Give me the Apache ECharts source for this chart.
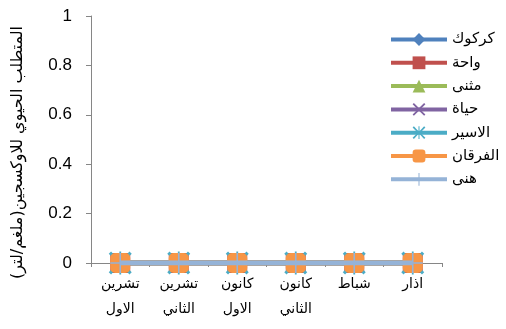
<!DOCTYPE html>
<html>
<head>
<meta charset="utf-8">
<script src="https://cdn.jsdelivr.net/npm/echarts@6/dist/echarts.min.js"></script>
<style>
  html, body { margin: 0; padding: 0; background: #fff; }
  #chart { width: 506px; height: 329px; }
</style>
</head>
<body>
<div id="chart"></div>
<script>
// Months (x axis), two-line labels
const months = ['تشرين\nالاول', 'تشرين\nالثاني', 'كانون\nالاول', 'كانون\nالثاني', 'شباط', 'اذار'];

// Station values per month (mg/L)
const kirkuk   = [0, 0, 0, 0, 0, 0];
const waha     = [0, 0, 0, 0, 0, 0];
const muthanna = [0, 0, 0, 0, 0, 0];
const hayat    = [0, 0, 0, 0, 0, 0];
const alaseer  = [0, 0, 0, 0, 0, 0];
const alfurqan = [0, 0, 0, 0, 0, 0];
const hana     = [0, 0, 0, 0, 0, 0];

const seriesNames = ['كركوك', 'واحة', 'مثنى', 'حياة', 'الاسير', 'الفرقان', 'هنى'];
const yTicks = [0, 0.2, 0.4, 0.6, 0.8, 1];

const xShape = 'path://M1,0L5,4L9,0L10,1L6,5L10,9L9,10L5,6L1,10L0,9L4,5L0,1Z';
const starShape = 'path://M1,0L4.6,3.9L4.6,0L5.4,0L5.4,3.9L9,0L10,1L6,5L10,9L9,10L5.4,6.1L5.4,10L4.6,10L4.6,6.1L1,10L0,9L4,5L0,1Z';
const plusShape = 'path://M4.6,0L5.4,0L5.4,4.6L10,4.6L10,5.4L5.4,5.4L5.4,10L4.6,10L4.6,5.4L0,5.4L0,4.6L4.6,4.6Z';

const styles = [
  { data: kirkuk,   color: '#4F81BD', symbol: 'diamond',   size: 14 },
  { data: waha,     color: '#C0504D', symbol: 'rect',      size: 20 },
  { data: muthanna, color: '#9BBB59', symbol: 'triangle',  size: 14 },
  { data: hayat,    color: '#8064A2', symbol: xShape,      size: 18 },
  { data: alaseer,  color: '#4BACC6', symbol: starShape,   size: 23 },
  { data: alfurqan, color: '#F79646', symbol: 'roundRect', size: 20 },
  { data: hana,     color: '#95B3D7', symbol: plusShape,   size: 20 }
];

const chart = echarts.init(document.getElementById('chart'), null, { renderer: 'canvas' });

chart.setOption({
  animation: false,
  backgroundColor: '#ffffff',
  textStyle: { fontFamily: 'Liberation Serif, DejaVu Sans, serif' },
  grid: { left: 91, right: 64, top: 16, bottom: 66 },
  legend: {
    orient: 'vertical',
    left: 384,
    top: 27,
    itemWidth: 56,
    itemHeight: 16,
    itemGap: 8.3,
    itemStyle: { borderWidth: 0 },
    lineStyle: { width: 4 },
    textStyle: { fontFamily: 'DejaVu Sans, sans-serif', fontSize: 15, color: '#000', padding: [0, 0, 0, 0] },
    data: seriesNames
  },
  xAxis: {
    type: 'category',
    data: months,
    boundaryGap: true,
    axisLine: { lineStyle: { color: '#868686', width: 1 } },
    axisTick: { show: true, length: 4, lineStyle: { color: '#868686' } },
    axisLabel: {
      color: '#000',
      fontFamily: 'DejaVu Sans, sans-serif',
      fontSize: 14,
      lineHeight: 25,
      margin: 9,
      interval: 0
    }
  },
  yAxis: {
    type: 'value',
    min: 0,
    max: 1,
    interval: 0.2,
    name: 'المتطلب الحيوي للاوكسجين(ملغم/لتر)',
    nameLocation: 'middle',
    nameGap: 65,
    nameRotate: 90,
    nameTextStyle: { fontFamily: 'DejaVu Sans, sans-serif', fontSize: 16, color: '#000', padding: [0, 26, 0, 0] },
    splitLine: { show: false },
    axisLine: { show: true, lineStyle: { color: '#868686', width: 1 } },
    axisTick: { show: true, length: 5, lineStyle: { color: '#868686' } },
    axisLabel: {
      color: '#000',
      fontFamily: 'Liberation Sans, sans-serif',
      fontSize: 17,
      margin: 19,
      formatter: v => (yTicks.includes(Math.round(v * 10) / 10) ? String(Math.round(v * 10) / 10) : '')
    }
  },
  series: styles.map((s, i) => ({
    name: seriesNames[i],
    type: 'line',
    data: s.data,
    symbol: s.symbol,
    symbolSize: s.size,
    showAllSymbol: true,
    lineStyle: { color: s.color, width: 5 },
    itemStyle: { color: s.color },
    z: 2 + i
  }))
});
</script>
</body>
</html>
